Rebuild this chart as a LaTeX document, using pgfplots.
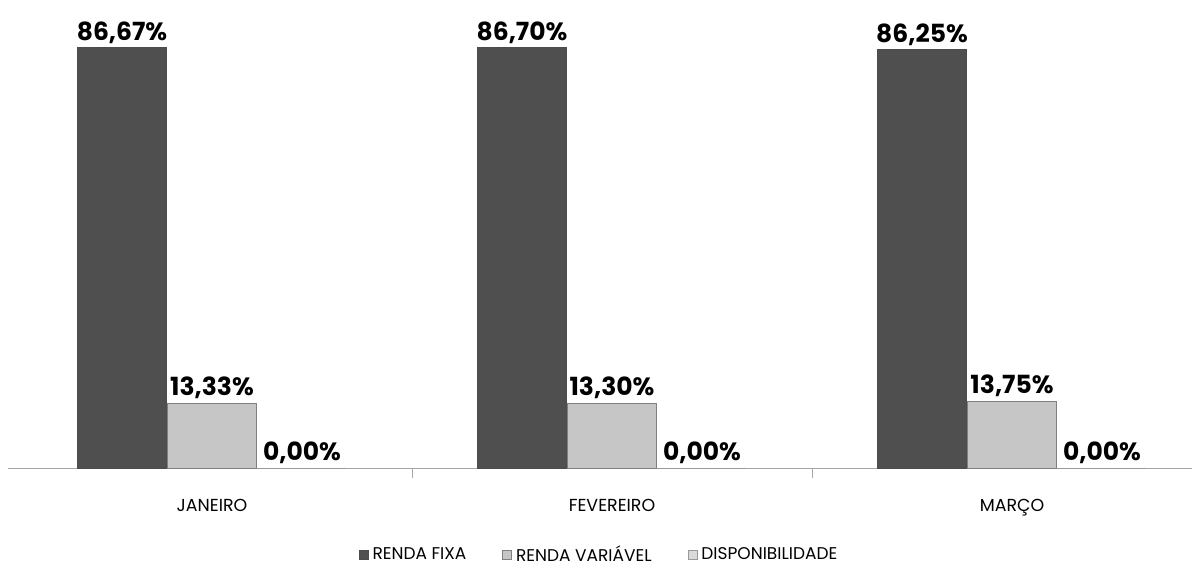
\documentclass[border=0pt]{standalone}
\usepackage{pgfplots}
\pgfplotsset{compat=1.18}
\usepackage{fontspec}
\setmainfont{Poppins}
\definecolor{rf}{HTML}{4F4F4F}
\definecolor{rv}{HTML}{C6C6C6}
\definecolor{dp}{HTML}{DADADA}
\begin{document}
\begin{tikzpicture}
\path[use as bounding box] (-4pt,-53.5pt) rectangle (592pt,234pt);
\begin{axis}[
  at={(0pt,0pt)}, anchor=south west,
  scale only axis, width=592pt, height=224pt,
  xmin=-0.51, xmax=2.45, ymin=0, ymax=92.4,
  axis x line=bottom, axis y line=none,
  x axis line style={-, draw=gray!70, thin},
  xtick={0,1,2},
  xticklabels={JANEIRO,FEVEREIRO,MARÇO},
  major tick length=0pt,
  minor xtick={0.5,1.5},
  minor tick length=5pt,
  xtick align=outside,
  minor tick style={draw=gray!70, thin},
  xticklabel style={font=\fontsize{8.7}{10}\selectfont, yshift=-12pt},
  ybar, bar width=0.222,
  clip=false,
  nodes near coords={\pgfmathprintnumber[fixed,fixed zerofill,precision=2,use comma,assume math mode=true]{\pgfplotspointmeta}\%},
  every node near coord/.append style={font=\fontsize{12.5}{14}\selectfont\bfseries, black, inner sep=2pt, anchor=south},
  legend columns=3,
  legend style={at={(0.5,-0.155)}, anchor=north, draw=none, fill=none,
    font=\fontsize{8.5}{10}\selectfont,
    /tikz/every even column/.append style={column sep=16pt}},
  legend image code/.code={\fill[#1] (0pt,-2.2pt) rectangle (4.5pt,2.2pt);},
]
\addplot[fill=rf, draw=black!70, bar shift=-0.225] coordinates {(0,86.67) (1,86.70) (2,86.25)};
\addplot[fill=rv, draw=black!50, bar shift=0] coordinates {(0,13.33) (1,13.30) (2,13.75)};
\addplot[fill=dp, draw=black!40, bar shift=0.225] coordinates {(0,0) (1,0) (2,0)};
\legend{RENDA FIXA, RENDA VARIÁVEL, DISPONIBILIDADE}
\end{axis}
\end{tikzpicture}
\end{document}
